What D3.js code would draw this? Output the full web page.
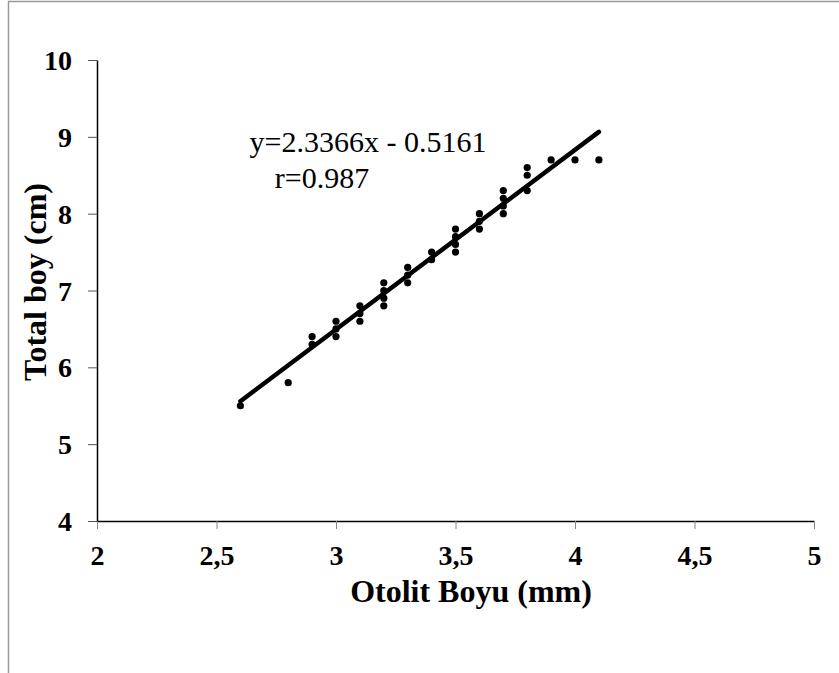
<!DOCTYPE html>
<meta charset="utf-8">
<style>
body {margin: 0; background: white;}
text {font-family: "Liberation Serif", "Times New Roman", serif; fill: black;}
.tick text {font-size: 28px; font-weight: bold;}
.axis path {stroke: black; stroke-width: 1.5px;}
.xaxis .tick line {stroke: #888;}
.yaxis .tick line {stroke: #555;}
.title {font-size: 32px; font-weight: bold;}
.eq {font-size: 30px;}
</style>
<body>
<script src="https://d3js.org/d3.v7.min.js"></script>
<script>
var width = 839, height = 673
var margin = {left: 97, top: 60, right: 25, bottom: 152}

// otolit boyu (mm) / total boy (cm)
var xs = [2.6, 2.8, 2.9, 2.9, 3.0, 3.0, 3.0, 3.1, 3.1, 3.1, 3.2, 3.2, 3.2, 3.2,
  3.3, 3.3, 3.3, 3.4, 3.4, 3.5, 3.5, 3.5, 3.5, 3.6, 3.6, 3.6, 3.7, 3.7, 3.7, 3.7,
  3.8, 3.8, 3.8, 3.9, 4.0, 4.1]
var ys = [5.5, 5.8, 6.3, 6.4, 6.4, 6.5, 6.6, 6.6, 6.7, 6.8, 6.8, 6.9, 7.0, 7.1,
  7.1, 7.2, 7.3, 7.4, 7.5, 7.5, 7.6, 7.7, 7.8, 7.8, 7.9, 8.0, 8.0, 8.1, 8.2, 8.3,
  8.3, 8.5, 8.6, 8.7, 8.7, 8.7]
var xTicks = [2, 2.5, 3, 3.5, 4, 4.5, 5]
var yTicks = [4, 5, 6, 7, 8, 9, 10]
var slope = 2.3366, intercept = -0.5161
var fitRange = [2.6, 4.1]

var svg = d3.select("body").append("svg")
  .attr("width", width).attr("height", height)

// outer frame
svg.append("rect")
  .attr("x", 8.5).attr("y", 1.5).attr("width", width + 20).attr("height", height + 20)
  .attr("fill", "none").attr("stroke", "#999").attr("stroke-width", 1.5)

var x = d3.scaleLinear().domain([2, 5]).range([margin.left, width - margin.right])
var y = d3.scaleLinear().domain([4, 10]).range([height - margin.bottom, margin.top])

svg.append("g").attr("class", "axis xaxis")
  .attr("transform", "translate(0," + y(4) + ")")
  .call(d3.axisBottom(x).tickValues(xTicks).tickSize(8).tickSizeOuter(0)
    .tickFormat(function(d) { return String(d).replace(".", ","); }))
  .attr("font-family", null).attr("font-size", null)
  .call(function(g) {
    g.selectAll(".tick text").attr("y", 0).attr("dy", null)
      .attr("transform", "translate(0,44)");
  })

svg.append("g").attr("class", "axis yaxis")
  .attr("transform", "translate(" + x(2) + ",0)")
  .call(d3.axisLeft(y).tickValues(yTicks).tickSize(9).tickSizeOuter(0)
    .tickFormat(d3.format("d")))
  .attr("font-family", null).attr("font-size", null)
  .call(function(g) {
    g.selectAll(".tick text").attr("x", -25).attr("dy", "0.34em");
  })

svg.selectAll(".dot")
  .data(xs).enter().append("circle")
  .attr("class", "dot")
  .attr("cx", function(d) { return x(d); })
  .attr("cy", function(d, i) { return y(ys[i]); })
  .attr("r", 3.6).attr("fill", "black")

svg.append("line")
  .attr("x1", x(fitRange[0])).attr("y1", y(slope * fitRange[0] + intercept))
  .attr("x2", x(fitRange[1])).attr("y2", y(slope * fitRange[1] + intercept))
  .attr("stroke", "black").attr("stroke-width", 4.5).attr("stroke-linecap", "round")

svg.append("text").attr("class", "eq")
  .attr("x", 368).attr("y", 152).attr("text-anchor", "middle")
  .text("y=2.3366x - 0.5161")
svg.append("text").attr("class", "eq")
  .attr("x", 322).attr("y", 188).attr("text-anchor", "middle")
  .text("r=0.987")

svg.append("text").attr("class", "title")
  .attr("x", 471).attr("y", 602).attr("text-anchor", "middle")
  .text("Otolit Boyu (mm)")
svg.append("text").attr("class", "title")
  .attr("transform", "translate(46," + 282 + ") rotate(-90)")
  .attr("text-anchor", "middle")
  .text("Total boy (cm)")
</script>
